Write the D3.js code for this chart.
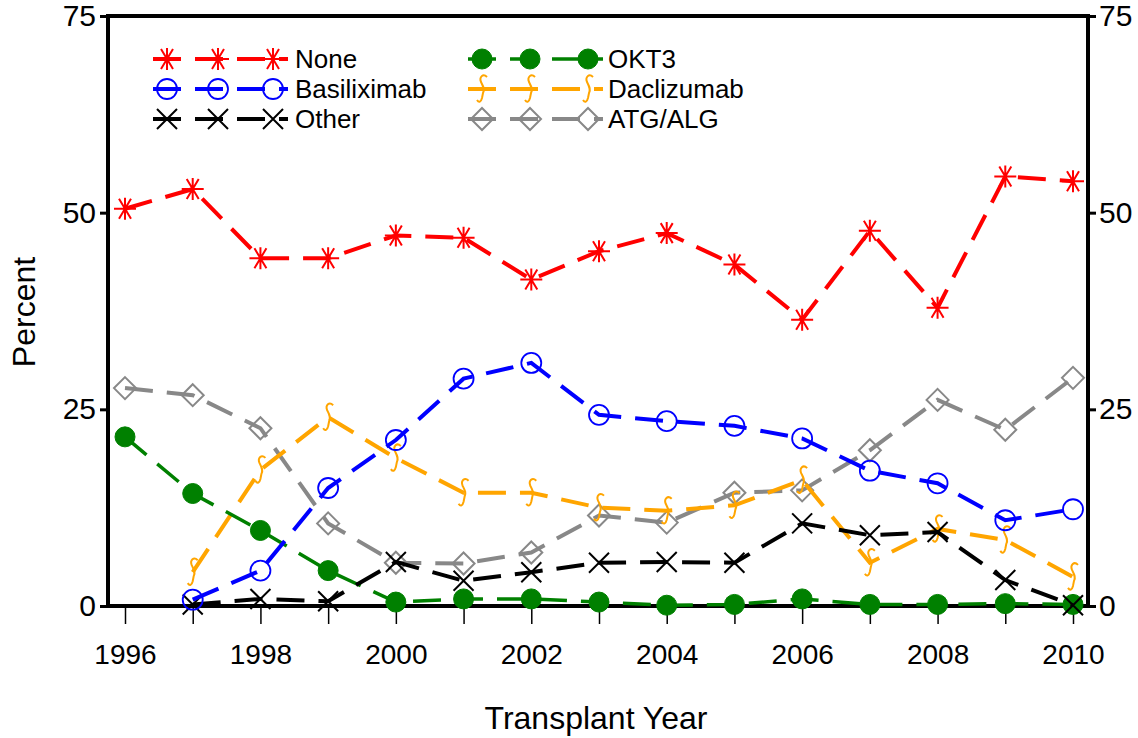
<!DOCTYPE html>
<html><head><meta charset="utf-8">
<script src="https://cdn.jsdelivr.net/npm/d3@7"></script>
<style>body{margin:0;background:#fff}svg{display:block;font-family:"Liberation Sans",Arial,sans-serif}</style>
</head><body>
<svg id="c" width="1138" height="738"></svg>
<script>
const years = [1996,1997,1998,1999,2000,2001,2002,2003,2004,2005,2006,2007,2008,2009,2010];
const none        = [50.5,53.0,44.2,44.2,47.1,46.8,41.5,45.1,47.4,43.4,36.4,47.7,37.9,54.6,54.0];
const basiliximab = [null,0.8,4.5,15.0,21.1,28.9,30.9,24.3,23.5,22.9,21.3,17.2,15.6,10.9,12.3];
const other       = [null,0.2,0.9,0.6,5.6,3.2,4.3,5.5,5.6,5.5,10.5,9.0,9.4,3.3,0.1];
const okt3        = [21.5,14.3,9.6,4.5,0.5,0.9,0.9,0.5,0.1,0.2,0.9,0.2,0.2,0.3,0.2];
const daclizumab  = [null,4.3,17.3,24.0,18.8,14.4,14.4,12.5,12.1,12.8,16.0,5.5,9.8,8.4,3.7];
const atgalg      = [27.7,26.8,22.6,10.5,5.5,5.4,6.8,11.5,10.6,14.4,14.7,19.8,26.2,22.4,29.0];
const yTicks = [0,25,50,75];
const xLabelYears = [1996,1998,2000,2002,2004,2006,2008,2010];

const seriesList = [
  {name:"ATG/ALG", values:atgalg, color:"#888888", marker:"diamond", lw:4},
  {name:"Daclizumab", values:daclizumab, color:"#FFA500", marker:"hook", lw:4},
  {name:"OKT3", values:okt3, color:"#008000", marker:"dot", lw:3.5},
  {name:"Other", values:other, color:"#000000", marker:"x", lw:4},
  {name:"Basiliximab", values:basiliximab, color:"#0000FF", marker:"circle", lw:4},
  {name:"None", values:none, color:"#FF0000", marker:"star", lw:4}
];

const svg = d3.select("#c");
const L=108, R=1088, T=16, B=606;
const x = d3.scaleLinear().domain([1996,2010]).range([125,1073]);
const y = d3.scaleLinear().domain([0,75]).range([B,T]);

function drawMarker(g, type, color){
  if(type==="star"){
    g.append("path").attr("d","M-11,0H11M-6,-10L6,10M6,-10L-6,10M0,-11V11")
     .attr("stroke",color).attr("stroke-width",2).attr("fill","none");
  } else if(type==="circle"){
    g.append("circle").attr("r",10).attr("fill","none").attr("stroke",color).attr("stroke-width",1.8);
  } else if(type==="dot"){
    g.append("circle").attr("r",10).attr("fill",color).attr("stroke",color).attr("stroke-width",1);
  } else if(type==="x"){
    g.append("path").attr("d","M-10,-10L10,10M10,-10L-10,10")
     .attr("stroke",color).attr("stroke-width",2).attr("fill","none");
  } else if(type==="diamond"){
    g.append("path").attr("d","M0,-11L11,0L0,11L-11,0Z")
     .attr("stroke",color).attr("stroke-width",2).attr("fill","none");
  } else if(type==="hook"){
    g.append("path").attr("d","M5,-12C1,-16 -3,-12 -1,-7C1,-3 3,0 1,4L0,9C-1,13 -3,14 -5,11")
     .attr("stroke",color).attr("stroke-width",2).attr("fill","none");
  }
}

// axes frame
const frame = svg.append("g");
frame.append("rect").attr("x",L).attr("y",T).attr("width",R-L).attr("height",B-T)
  .attr("fill","none").attr("stroke","#000").attr("stroke-width",4);

// y ticks and labels (left & right)
const yAxisL = d3.axisLeft(y).tickValues(yTicks).tickSize(6).tickPadding(4);
const gl = svg.append("g").attr("transform",`translate(${L-2},0)`).call(yAxisL);
gl.select(".domain").remove();
gl.selectAll("line").attr("stroke-width",3);
gl.selectAll("text").attr("font-size",30).attr("font-family","Liberation Sans, Arial").attr("fill","#000");

const yAxisR = d3.axisRight(y).tickValues(yTicks).tickSize(6).tickPadding(3);
const gr = svg.append("g").attr("transform",`translate(${R+2},0)`).call(yAxisR);
gr.select(".domain").remove();
gr.selectAll("line").attr("stroke-width",3);
gr.selectAll("text").attr("font-size",30).attr("font-family","Liberation Sans, Arial").attr("fill","#000");

// x ticks (every year) and labels (even years)
const xAxis = d3.axisBottom(x).tickValues(years).tickSize(18).tickPadding(20)
  .tickFormat(d => xLabelYears.includes(d) ? String(d) : "");
const gx = svg.append("g").attr("transform",`translate(0,${B})`).call(xAxis);
gx.select(".domain").remove();
gx.selectAll("line").attr("stroke-width",1.5);
gx.selectAll("text").attr("font-size",28).attr("font-family","Liberation Sans, Arial").attr("fill","#000");

// axis titles
svg.append("text").attr("x",596).attr("y",729).attr("text-anchor","middle")
  .attr("font-size",32).text("Transplant Year");
svg.append("text").attr("transform","translate(35,312) rotate(-90)").attr("text-anchor","middle")
  .attr("font-size",32).text("Percent");

// series
const dash = "28,14";
seriesList.forEach(s => {
  const pts = years.map((yr,i)=>({yr, v:s.values[i]})).filter(p=>p.v!==null);
  const line = d3.line().x(p=>x(p.yr)).y(p=>y(p.v));
  svg.append("path").datum(pts).attr("d",line).attr("fill","none")
    .attr("stroke",s.color).attr("stroke-width",s.lw).attr("stroke-dasharray",dash);
  pts.forEach(p => {
    const g = svg.append("g").attr("transform",`translate(${x(p.yr)},${y(p.v)})`);
    drawMarker(g, s.marker, s.color);
  });
});

// legend
const legendItems = [
  {name:"None", s:seriesList[5], col:0, row:0},
  {name:"Basiliximab", s:seriesList[4], col:0, row:1},
  {name:"Other", s:seriesList[3], col:0, row:2},
  {name:"OKT3", s:seriesList[2], col:1, row:0},
  {name:"Daclizumab", s:seriesList[1], col:1, row:1},
  {name:"ATG/ALG", s:seriesList[0], col:1, row:2}
];
const colX = [[153,288,[167,218,273],295],[468,603,[482,530,588],608]];
const rowY = [59,89,119];
legendItems.forEach(it => {
  const c = colX[it.col], yy = rowY[it.row];
  svg.append("line").attr("x1",c[0]).attr("x2",c[1]).attr("y1",yy).attr("y2",yy)
    .attr("stroke",it.s.color).attr("stroke-width",it.s.lw).attr("stroke-dasharray",dash);
  c[2].forEach(mx => {
    const g = svg.append("g").attr("transform",`translate(${mx},${yy})`);
    drawMarker(g, it.s.marker, it.s.color);
  });
  svg.append("text").attr("x",c[3]).attr("y",yy).attr("dy","0.36em")
    .attr("font-size",26).text(it.name);
});
</script>
</body></html>
